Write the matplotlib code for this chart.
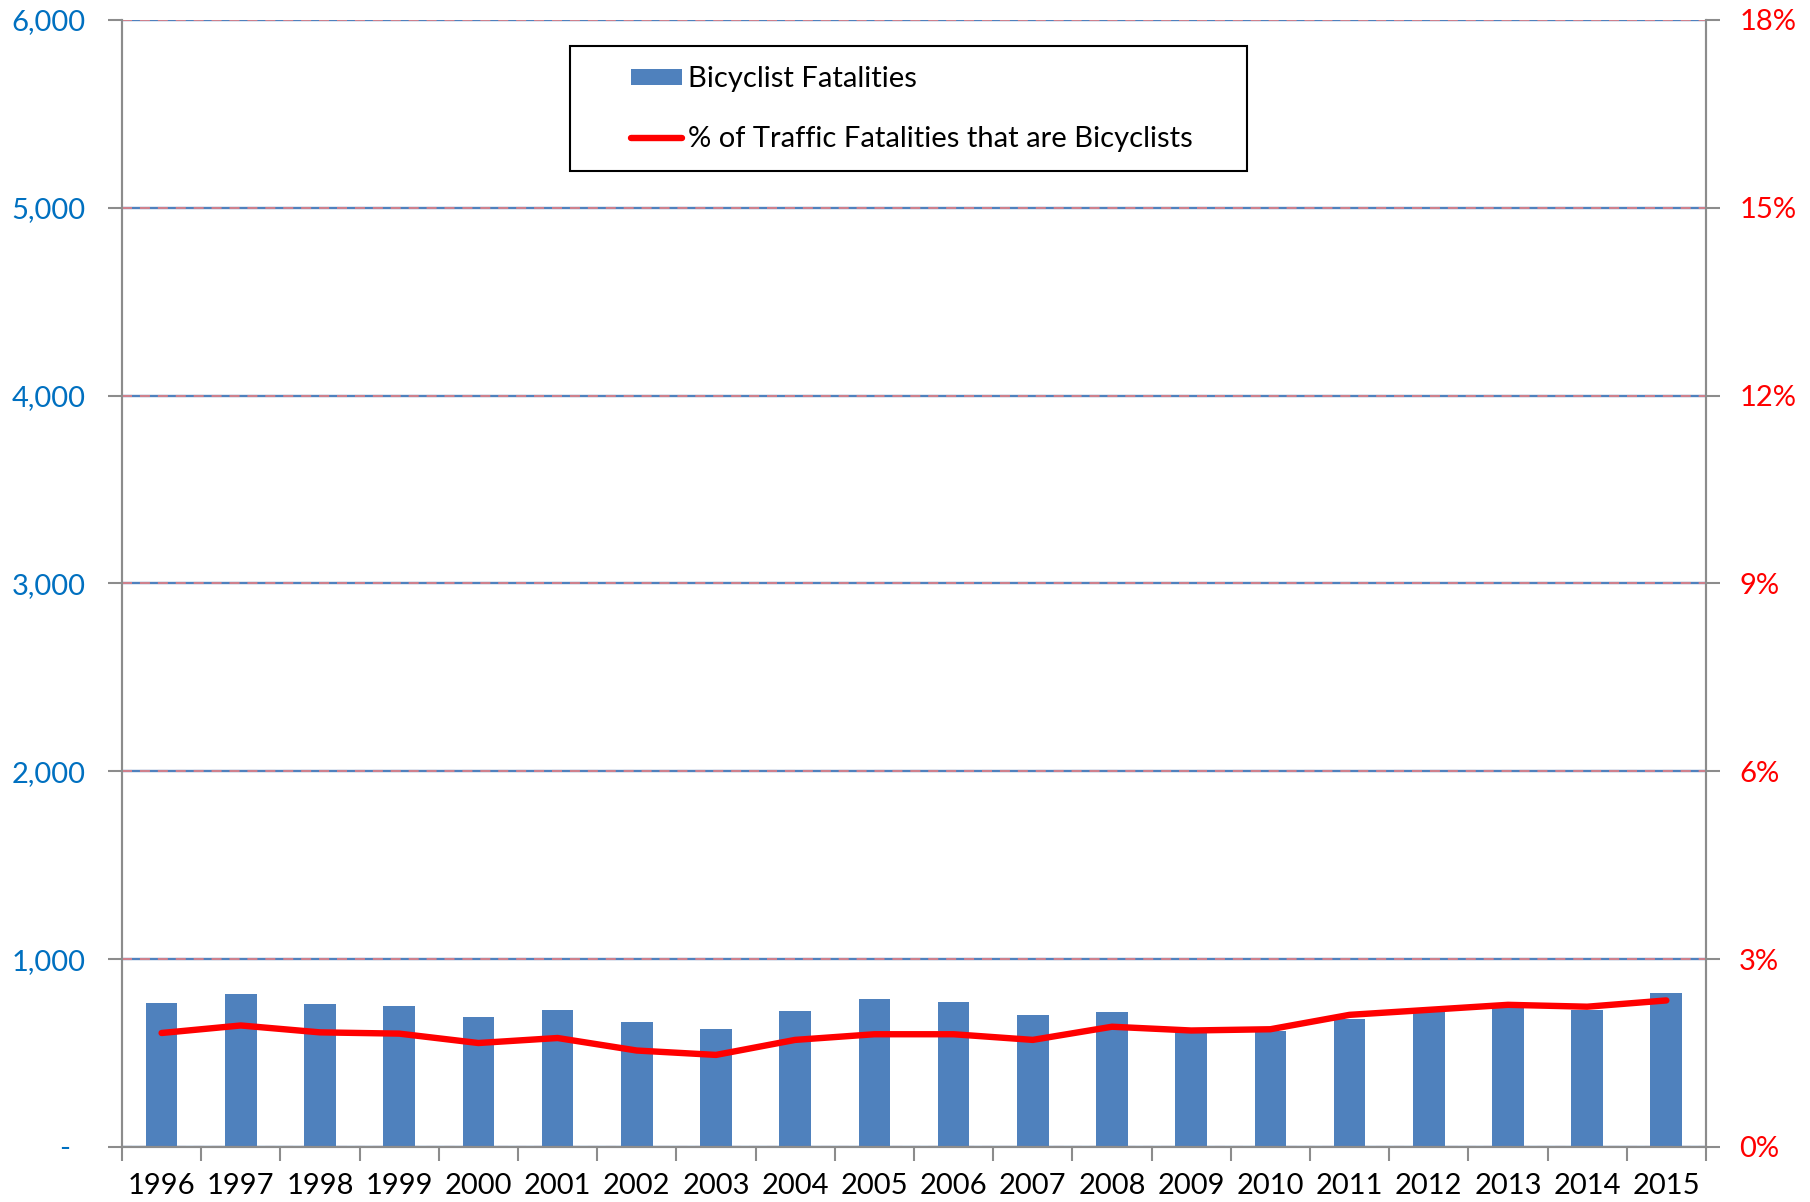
import numpy as np
import matplotlib.pyplot as plt
from matplotlib.patches import Rectangle
from matplotlib.ticker import FuncFormatter, FixedLocator

plt.rcParams['font.family'] = ['Lato', 'DejaVu Sans']

###############################################################################
# data
years = [1996, 1997, 1998, 1999, 2000, 2001, 2002, 2003, 2004, 2005,
         2006, 2007, 2008, 2009, 2010, 2011, 2012, 2013, 2014, 2015]
bike_deaths = [765, 813, 760, 753, 692, 731, 665, 628, 726, 786,
               772, 701, 717, 621, 618, 681, 717, 752, 729, 818]
bike_share = [1.82, 1.94, 1.83, 1.81, 1.66, 1.74, 1.54, 1.47, 1.71, 1.80,
              1.80, 1.71, 1.92, 1.86, 1.88, 2.11, 2.19, 2.27, 2.24, 2.34]
count_ticks = [0, 1000, 2000, 3000, 4000, 5000, 6000]
share_ticks = [0, 3, 6, 9, 12, 15, 18]

###############################################################################
# styles
blue = '#4F81BD'
red = '#FF0000'
axis_grey = '#8C8C8C'
label_blue = '#0070C0'
tick_size = 21

fig = plt.figure(figsize=(18.1, 12.02), dpi=100)
ax = fig.add_axes([0.0674, 0.0458, 0.8751, 0.9376])
ax2 = ax.twinx()

x = np.arange(len(years))
bars = ax.bar(x, bike_deaths, width=0.4, color=blue, zorder=2,
              label="Bicyclist Fatalities")
line, = ax2.plot(x, bike_share, color=red, linewidth=4.6,
                 solid_capstyle='round', solid_joinstyle='round',
                 label="% of Traffic Fatalities that are Bicyclists")

ax.set_xlim(-0.5, len(years) - 0.5)
ax.set_ylim(0, 6000)
ax2.set_ylim(0, 18)

# left axis
ax.yaxis.set_major_locator(FixedLocator(count_ticks))
ax.yaxis.set_major_formatter(FuncFormatter(
    lambda v, p: "-  " if v == 0 else "{:,.0f}".format(v)))
ax.tick_params(axis='y', labelsize=tick_size, labelcolor=label_blue,
               color=axis_grey, length=10, width=1.5, pad=16)
ax.yaxis.grid(True, color=blue, linewidth=1.7, zorder=0)
ax.set_axisbelow(True)

# right axis
ax2.yaxis.set_major_locator(FixedLocator(share_ticks))
ax2.yaxis.set_major_formatter(FuncFormatter(lambda v, p: "{:.0f}%".format(v)))
ax2.tick_params(axis='y', labelsize=tick_size, labelcolor=red,
                color=axis_grey, length=10, width=1.5, pad=14)
ax2.yaxis.grid(True, color='#F08080', alpha=0.8, linewidth=1.5,
               linestyle=(0, (4.8, 3.8)))

# category axis, ticks sit between the years
ax.set_xticks(x)
ax.set_xticklabels([str(y) for y in years])
ax.set_xticks(np.arange(len(years) + 1) - 0.5, minor=True)
ax.tick_params(axis='x', which='major', length=0, labelsize=tick_size, pad=19)
ax.tick_params(axis='x', which='minor', length=10, width=1.5,
               color=axis_grey)

for a in (ax, ax2):
    a.spines['top'].set_visible(False)
    for side in ('left', 'right', 'bottom'):
        a.spines[side].set_color(axis_grey)
        a.spines[side].set_linewidth(1.5)

line.set_zorder(3)

###############################################################################
# legend
leg = fig.legend([bars, line], [bars.get_label(), line.get_label()],
                 loc='center left', bbox_to_anchor=(0.334, 0.909),
                 frameon=False, fontsize=21, handlelength=1.75,
                 handleheight=0.5, handletextpad=0.2, labelspacing=1.17)
fig.patches.append(Rectangle((0.315, 0.8577), 0.374, 0.104,
                             transform=fig.transFigure, fill=False,
                             edgecolor='black', linewidth=1.5))

plt.savefig('out.png', dpi=100)
